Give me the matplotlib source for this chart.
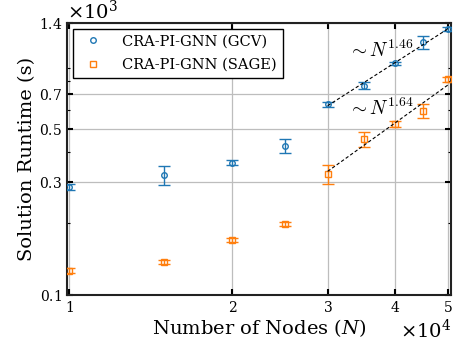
import matplotlib
matplotlib.use('Agg')
import matplotlib.pyplot as plt
from matplotlib.ticker import FixedLocator, ScalarFormatter, NullFormatter, LogLocator
from matplotlib.lines import Line2D
import numpy as np

plt.rcParams['font.family'] = 'DejaVu Serif'
plt.rcParams['mathtext.fontset'] = 'dejavuserif'

nodes = [10000, 15000, 20000, 25000, 30000, 35000, 40000, 45000, 50000]
gcv_runtime = [286, 320, 361, 424, 636, 762, 947, 1161, 1317]
gcv_err = [8, 30, 8, 28, 15, 25, 15, 70, 25]
sage_runtime = [126.6, 137.7, 170.5, 199, 323, 453, 524, 598, 811]
sage_err = [3, 3, 3, 4, 30, 32, 15, 42, 20]
series_labels = ['CRA-PI-GNN (GCV)', 'CRA-PI-GNN (SAGE)']
fit_exponents = [1.46, 1.64]
fit_start_node = 30000
y_ticks = [100, 300, 500, 700, 1400]
x_ticks = [10000, 20000, 30000, 40000, 50000]

blue = '#1f77b4'
orange = '#ff7f0e'

fig = plt.figure(figsize=(4.53, 3.41), dpi=100)
ax = fig.add_axes([0.148, 0.135, 0.848, 0.798])

ax.set_xscale('log')
ax.set_yscale('log')

ax.grid(True, which='major', color='#bdbdbd', linewidth=0.9, zorder=0)

for vals, errs, col, mk in [(gcv_runtime, gcv_err, blue, 'o'), (sage_runtime, sage_err, orange, 's')]:
    ax.errorbar(nodes, vals, yerr=errs, fmt=mk, color=col, mfc='none', mec=col,
                ms=4, mew=1.0, elinewidth=1.0, capsize=4.5, capthick=1.0, zorder=3)

# power-law fits
nodes_arr = np.array(nodes, dtype=float)
mask = nodes_arr >= fit_start_node
for vals, k in [(gcv_runtime, fit_exponents[0]), (sage_runtime, fit_exponents[1])]:
    lx = np.log10(nodes_arr[mask])
    ly = np.log10(np.array(vals, dtype=float)[mask])
    b = ly.mean() - k * lx.mean()
    xs = np.array([fit_start_node, nodes[-1]], dtype=float)
    ax.plot(xs, 10 ** (b + k * np.log10(xs)), ls='--', color='black', lw=0.8,
            dashes=(3, 2), zorder=4)

ax.text(37630, 1067, r'$\sim N^{%.2f}$' % fit_exponents[0], fontsize=14, ha='center', va='center',
        math_fontfamily='cm')
ax.text(37630, 613, r'$\sim N^{%.2f}$' % fit_exponents[1], fontsize=14, ha='center', va='center',
        math_fontfamily='cm')

ax.set_xlim(9915, 50700)
ax.set_ylim(100, 1400)

ax.xaxis.set_major_locator(FixedLocator(x_ticks))
ax.yaxis.set_major_locator(FixedLocator(y_ticks))
for axis in (ax.xaxis, ax.yaxis):
    f = ScalarFormatter(useMathText=True, useOffset=False)
    f.set_powerlimits((0, 0))
    axis.set_major_formatter(f)
    axis.set_minor_formatter(NullFormatter())
ax.yaxis.set_minor_locator(LogLocator(base=10, subs=np.arange(2, 10)))
ax.xaxis.set_minor_locator(FixedLocator([]))

ax.tick_params(which='both', direction='in', top=True, right=True, labelsize=10)
ax.tick_params(which='major', length=4, width=1.5)
ax.tick_params(which='minor', length=2.5, width=0.8)
ax.xaxis.get_offset_text().set_fontsize(14)
ax.yaxis.get_offset_text().set_fontsize(14)

for s in ax.spines.values():
    s.set_linewidth(1.5)
    s.set_color('#222222')

ax.set_xlabel(r'Number of Nodes ($N$)', fontsize=14, labelpad=2)
ax.set_ylabel('Solution Runtime (s)', fontsize=14, labelpad=2)

handles = [Line2D([], [], ls='none', marker='o', mfc='none', mec=blue, ms=4, mew=1.0),
           Line2D([], [], ls='none', marker='s', mfc='none', mec=orange, ms=4, mew=1.0)]
leg = ax.legend(handles, series_labels, loc='upper left', fontsize=10.5, fancybox=False,
                edgecolor='black', framealpha=1, borderaxespad=0.4, handletextpad=1.0,
                labelspacing=0.65)
leg.get_frame().set_linewidth(1.0)

fig.savefig('out.png', dpi=100)
